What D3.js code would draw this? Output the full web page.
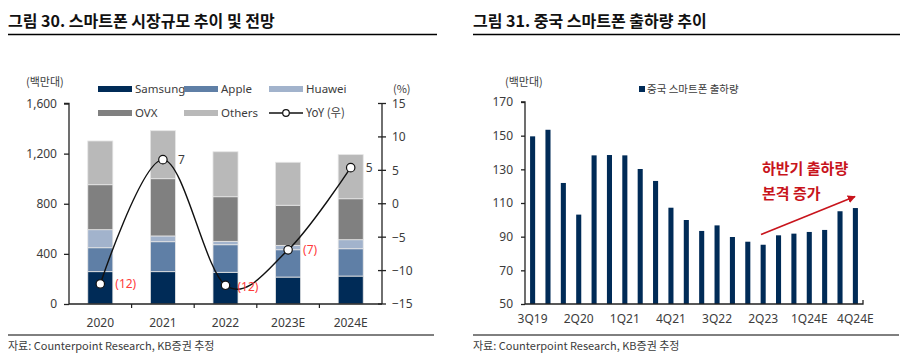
<!DOCTYPE html>
<html><head><meta charset="utf-8">
<script src="https://cdn.jsdelivr.net/npm/d3@7"></script>
<style>
body{margin:0;background:#fff;}
svg{display:block;font-family:"Noto Sans CJK KR","Noto Sans",sans-serif;}
</style></head><body>
<svg id="c" width="905" height="356"></svg>
<script>
// ---- Left chart data
const years = ["2020","2021","2022","2023E","2024E"];
const samsung = [258, 258, 253, 215, 223];
const apple   = [191, 239, 220, 218, 218];
const huawei  = [144, 46, 27, 35, 72];
const ovx     = [359, 457, 356, 320, 327];
const others  = [349, 383, 359, 343, 352];
const yoy     = [-12, 6.6, -12.2, -6.9, 5.4];
const yoyLabels = ["(12)", "7", "(12)", "(7)", "5"];
const leftTicks = [0, 400, 800, 1200, 1600];
const rightTicks = [-15, -10, -5, 0, 5, 10, 15];
const seriesNames = ["Samsung","Apple","Huawei","OVX","Others"];
const seriesColors = ["#002b57","#5f7fa6","#a2b3cc","#808080","#b9b9b9"];

// ---- Right chart data
const quarters = ["3Q19","4Q19","1Q20","2Q20","3Q20","4Q20","1Q21","2Q21","3Q21","4Q21","1Q22","2Q22","3Q22","4Q22","1Q23","2Q23","3Q23","4Q23","1Q24E","2Q24E","3Q24E","4Q24E"];
const china = [149.6,153.5,121.9,103.1,138.3,138.5,138.3,130.2,123.1,107.2,99.9,93.4,96.7,89.8,87.0,85.2,90.8,91.8,92.8,94.0,105.1,107.0];
const chinaTicks = [50,70,90,110,130,150,170];
const chinaTickLabels = ["3Q19","2Q20","1Q21","4Q21","3Q22","2Q23","1Q24E","4Q24E"];

const svg = d3.select("#c");
const txt = "#3c3c3c";
const red = "#ff3b3b";

// Titles
function title(x, x2, t){
  svg.append("text").attr("x",x).attr("y",27).attr("font-size",16).attr("font-weight",700)
    .attr("fill","#111").text(t);
  svg.append("line").attr("x1",x).attr("x2",x2).attr("y1",34.5).attr("y2",34.5)
    .attr("stroke","#000").attr("stroke-width",1.5);
}
title(8, 437, "그림 30. 스마트폰 시장규모 추이 및 전망");
title(473, 900, "그림 31. 중국 스마트폰 출하량 추이");

function source(x, x2){
  svg.append("line").attr("x1",x).attr("x2",x2).attr("y1",335).attr("y2",335)
    .attr("stroke","#000").attr("stroke-width",1);
  svg.append("text").attr("x",x).attr("y",350).attr("font-size",11).attr("fill",txt)
    .text("자료: Counterpoint Research, KB증권 추정");
}
source(8, 434);
source(473, 899);

// ---------- Left chart
const L = {x0:69, x1:382, y0:304, y1:103.5};
const xL = d3.scaleBand().domain(years).range([L.x0, L.x1]).paddingInner(0.6).paddingOuter(0.3);
const yL = d3.scaleLinear().domain([0,1600]).range([L.y0, L.y1]);
const yR = d3.scaleLinear().domain([-15,15]).range([L.y0, L.y1]);

const rows = years.map((y,i)=>({year:y, Samsung:samsung[i], Apple:apple[i], Huawei:huawei[i], OVX:ovx[i], Others:others[i]}));
const stack = d3.stack().keys(seriesNames)(rows);
const g = svg.append("g");
stack.forEach((s,k)=>{
  g.selectAll(null).data(s).enter().append("rect")
    .attr("x", d=>xL(d.data.year)).attr("width", xL.bandwidth())
    .attr("y", d=>yL(d[1])).attr("height", d=>yL(d[0])-yL(d[1]))
    .attr("fill", seriesColors[k]).attr("stroke","#e6e6e6").attr("stroke-width",0.8);
});

// left axis
const axL = svg.append("g").attr("transform",`translate(${L.x0},0)`)
  .call(d3.axisLeft(yL).tickValues(leftTicks).tickSize(5).tickFormat(d3.format(",")));
axL.select(".domain").attr("stroke","#222").attr("stroke-width",1.3).attr("d",`M-5,${L.y1}H0V${L.y0}`);
axL.selectAll(".tick line").attr("stroke","#222").attr("stroke-width",1.3);
axL.selectAll(".tick text").attr("font-size",12).attr("fill",txt).attr("x",-12).attr("font-family","Noto Sans, sans-serif");
// right axis
const axR = svg.append("g").attr("transform",`translate(${L.x1},0)`)
  .call(d3.axisRight(yR).tickValues(rightTicks).tickSize(0).tickFormat(d=>d<0?"\u2212"+Math.abs(d):d));
axR.select(".domain").remove();
axR.append("path").attr("d",`M0,${L.y1}V${L.y0}`).attr("stroke","#222").attr("stroke-width",1.3);
rightTicks.forEach(t=>axR.append("line").attr("x1",-4).attr("x2",4).attr("y1",yR(t)).attr("y2",yR(t)).attr("stroke","#222").attr("stroke-width",1.3));
axR.selectAll(".tick text").attr("font-size",12).attr("fill",txt).attr("x",10).attr("font-family","Noto Sans, sans-serif");
// bottom axis
const axB = svg.append("g").attr("transform",`translate(0,${L.y0})`)
  .call(d3.axisBottom(xL).tickSize(0).tickPadding(14));
axB.select(".domain").remove();
axB.append("path").attr("d",`M${L.x0},0H${L.x1}`).attr("stroke","#222").attr("stroke-width",1.3);
const step = xL.step();
for(let i=1;i<years.length;i++){
  const xx = L.x0 + step*i;
  axB.append("line").attr("x1",xx).attr("x2",xx).attr("y1",0).attr("y2",4).attr("stroke","#222").attr("stroke-width",1.2);
}
axB.selectAll(".tick text").attr("font-size",12).attr("fill",txt).attr("font-family","Noto Sans, sans-serif");

svg.append("text").attr("x",26).attr("y",86).attr("font-size",11).attr("fill",txt).text("(백만대)");
svg.append("text").attr("x",393).attr("y",93).attr("font-size",11).attr("fill",txt).text("(%)");

// YoY line
const pts = years.map((y,i)=>[xL(y)+xL.bandwidth()/2, yR(yoy[i])]);
svg.append("path").attr("d", d3.line().curve(d3.curveCardinal.tension(0))(pts))
  .attr("fill","none").attr("stroke","#111").attr("stroke-width",1.4);
svg.selectAll(null).data(pts).enter().append("circle")
  .attr("cx",d=>d[0]).attr("cy",d=>d[1]).attr("r",4.2)
  .attr("fill","#fff").attr("stroke","#111").attr("stroke-width",1.2);
svg.selectAll(null).data(pts).enter().append("text")
  .attr("x",(d,i)=>d[0]+ (i===2?12:15)).attr("y",(d,i)=>d[1]+(i===2?6:4))
  .attr("font-size",12).attr("font-family","Noto Sans, sans-serif")
  .attr("fill",(d,i)=>yoy[i]<0?red:txt).text((d,i)=>yoyLabels[i]);

// legend
const legPos = [[98,89],[184,89],[269,89],[98,113],[184,113]];
seriesNames.forEach((n,i)=>{
  const [lx,ly]=legPos[i];
  svg.append("rect").attr("x",lx).attr("y",ly-3).attr("width",34).attr("height",6).attr("fill",seriesColors[i]);
  svg.append("text").attr("x",lx+37).attr("y",ly+4).attr("font-size",11.5).attr("fill",txt)
    .attr("font-family","Noto Sans, sans-serif").text(n);
});
svg.append("line").attr("x1",269).attr("x2",303).attr("y1",113).attr("y2",113).attr("stroke","#111").attr("stroke-width",1.4);
svg.append("circle").attr("cx",286).attr("cy",113).attr("r",3.3).attr("fill","#fff").attr("stroke","#111").attr("stroke-width",1.2);
svg.append("text").attr("x",306).attr("y",117).attr("font-size",11.5).attr("fill",txt).text("YoY (우)");

// ---------- Right chart
const R = {x0:525, x1:863, y0:304, y1:102};
const xC = d3.scaleBand().domain(quarters).range([R.x0, R.x1]).paddingInner(0.67).paddingOuter(0.33);
const yC = d3.scaleLinear().domain([50,170]).range([R.y0, R.y1]);
svg.append("g").selectAll("rect").data(china).enter().append("rect")
  .attr("x",(d,i)=>xC(quarters[i])).attr("width",xC.bandwidth())
  .attr("y",d=>yC(d)).attr("height",d=>yC(50)-yC(d))
  .attr("fill","#002b57");
const axC = svg.append("g").attr("transform",`translate(${R.x0},0)`)
  .call(d3.axisLeft(yC).tickValues(chinaTicks).tickSize(4));
axC.select(".domain").attr("stroke","#222").attr("stroke-width",1.3).attr("d",`M-4,${R.y1}H0V${R.y0}`);
axC.selectAll(".tick line").attr("stroke","#222").attr("stroke-width",1.3);
axC.selectAll(".tick text").attr("font-size",12).attr("fill",txt).attr("x",-12).attr("font-family","Noto Sans, sans-serif");
const axCB = svg.append("g").attr("transform",`translate(0,${R.y0})`)
  .call(d3.axisBottom(xC).tickValues(chinaTickLabels).tickSize(0).tickPadding(10));
axCB.select(".domain").remove();
axCB.append("path").attr("d",`M${R.x0},0H${R.x1}V-4`).attr("stroke","#222").attr("stroke-width",1.3).attr("fill","none");
axCB.selectAll(".tick text").attr("font-size",12).attr("fill",txt).attr("font-family","Noto Sans, sans-serif");

svg.append("text").attr("x",505).attr("y",86).attr("font-size",11).attr("fill",txt).text("(백만대)");
svg.append("rect").attr("x",639).attr("y",86).attr("width",6).attr("height",6).attr("fill","#002b57");
svg.append("text").attr("x",647).attr("y",93).attr("font-size",10.5).attr("fill",txt).text("중국 스마트폰 출하량");

// annotation
const ared = "#c8141c";
svg.append("text").attr("x",762).attr("y",174).attr("font-size",15).attr("font-weight",700).attr("fill",ared).text("하반기 출하량");
svg.append("text").attr("x",762).attr("y",199).attr("font-size",15).attr("font-weight",700).attr("fill",ared).text("본격 증가");
svg.append("defs").append("marker").attr("id","ah").attr("viewBox","0 0 10 10").attr("refX",9).attr("refY",5)
  .attr("markerWidth",5).attr("markerHeight",5).attr("orient","auto")
  .append("path").attr("d","M0,0L10,5L0,10Z").attr("fill",ared);
svg.append("line").attr("x1",761).attr("y1",234.5).attr("x2",855).attr("y2",196.5)
  .attr("stroke",ared).attr("stroke-width",1.6).attr("marker-end","url(#ah)");
</script>
</body></html>
